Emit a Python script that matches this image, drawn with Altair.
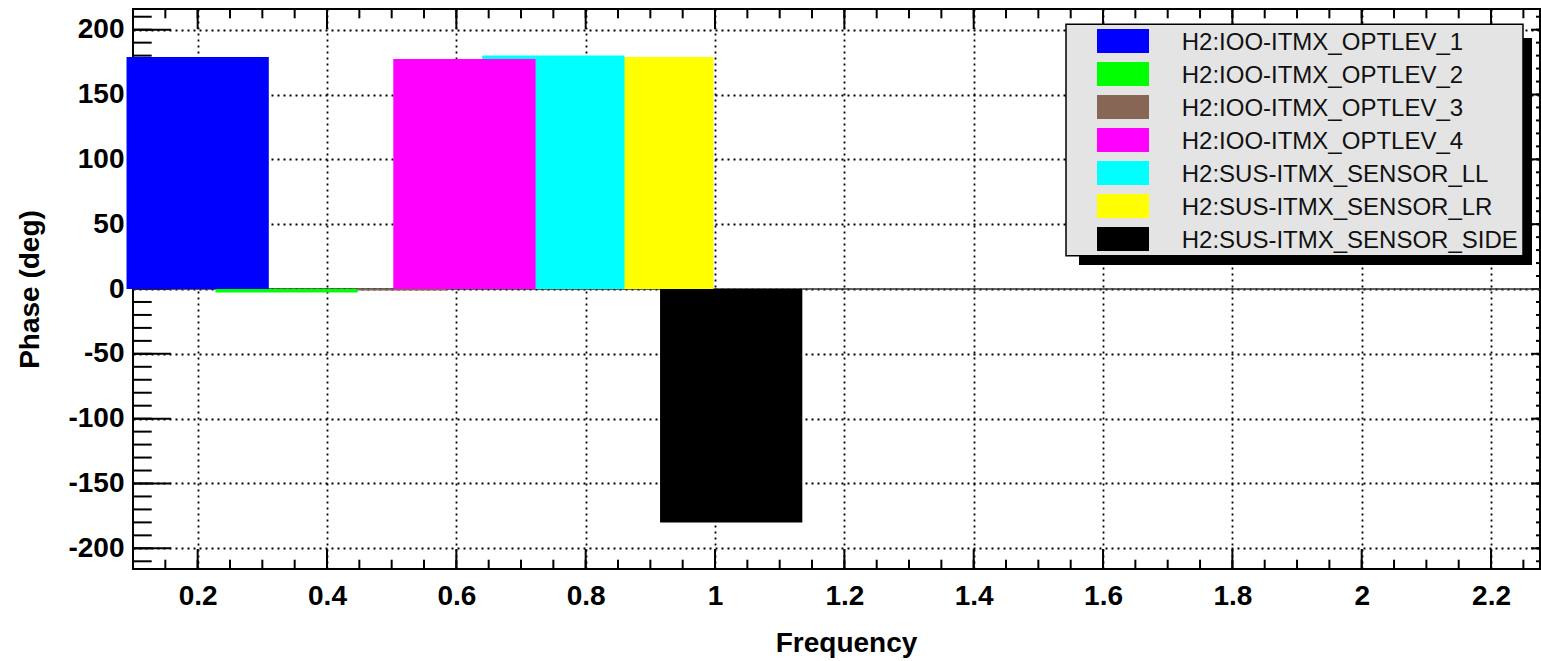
import altair as alt
import pandas as pd

# ---------------- data ----------------
names = [
    "H2:IOO-ITMX_OPTLEV_1",
    "H2:IOO-ITMX_OPTLEV_2",
    "H2:IOO-ITMX_OPTLEV_3",
    "H2:IOO-ITMX_OPTLEV_4",
    "H2:SUS-ITMX_SENSOR_LL",
    "H2:SUS-ITMX_SENSOR_LR",
    "H2:SUS-ITMX_SENSOR_SIDE",
]
colors = ["#0000ff", "#00ff00", "#876656", "#ff00ff", "#00ffff", "#ffff00", "#000000"]
bar_centers = [0.2, 0.3375, 0.475, 0.6125, 0.75, 0.8875, 1.025]
phase = [178.9, -2.7, -1.1, 177.4, 180.0, 178.9, -180.0]
BAR_WIDTH = 0.22

x_ticks = [0.2, 0.4, 0.6, 0.8, 1.0, 1.2, 1.4, 1.6, 1.8, 2.0, 2.2]
y_ticks = [-200, -150, -100, -50, 0, 50, 100, 150, 200]
x_minor = [round(0.1 + 0.05 * i, 2) for i in range(0, 44)]
y_minor = [-210 + 10 * i for i in range(0, 43)]

X_DOMAIN = [0.1, 2.2757]
Y_DOMAIN = [-215.95, 215.95]

W, H = 1407, 560
FONT = "Liberation Sans"

# ---------------- tables ----------------
bars = pd.DataFrame({
    "name": names,
    "x0": [c - BAR_WIDTH / 2 for c in bar_centers],
    "x1": [c + BAR_WIDTH / 2 for c in bar_centers],
    "phase": phase,
})
bars_draw = bars.iloc[::-1].reset_index(drop=True)  # last series drawn first
legend_df = pd.DataFrame({"name": names})

xscale = alt.Scale(domain=X_DOMAIN, nice=False, zero=False)
yscale = alt.Scale(domain=Y_DOMAIN, nice=False, zero=False)
cscale = alt.Scale(domain=names, range=colors)

xaxis = alt.Axis(
    values=x_ticks, labelExpr="'' + datum.value", grid=True, ticks=False, domain=False,
    gridDash=[2, 4], gridColor="black", gridWidth=1.8, gridOpacity=1,
    labelFont=FONT, labelFontWeight="bold", labelFontSize=28, labelColor="black",
    labelPadding=13, labelFlush=False, labelOverlap=False,
    title="Frequency", titleFont=FONT, titleFontWeight="bold", titleFontSize=28,
    titleColor="black", titleX=713, titleY=82.7, titleBaseline="alphabetic",
    titleAlign="center", titleAnchor="middle",
)
yaxis = alt.Axis(
    values=y_ticks, labelExpr="'' + datum.value", grid=True, ticks=False, domain=False,
    gridDash=[2, 4], gridColor="black", gridWidth=1.8, gridOpacity=1,
    labelFont=FONT, labelFontWeight="bold", labelFontSize=28, labelColor="black",
    labelPadding=9, labelFlush=False, labelOverlap=False,
    title="Phase (deg)", titleFont=FONT, titleFontWeight="bold", titleFontSize=28,
    titleColor="black", titleAngle=270, titleX=-95, titleY=280,
    titleBaseline="alphabetic", titleAlign="center", titleAnchor="middle",
)

xmaj = pd.DataFrame({"v": x_ticks})
xmin = pd.DataFrame({"v": x_minor})
ymaj = pd.DataFrame({"v": y_ticks})
ymin = pd.DataFrame({"v": y_minor})

def xtick(df, y0, y1, sw=2):
    return alt.Chart(df).mark_rule(color="black", strokeWidth=sw).encode(
        x=alt.X("v:Q", scale=xscale, axis=xaxis),
        y=alt.value(y0), y2=alt.value(y1),
    )

def ytick(df, x0, x1, sw=2):
    return alt.Chart(df).mark_rule(color="black", strokeWidth=sw).encode(
        y=alt.Y("v:Q", scale=yscale, axis=yaxis),
        x=alt.value(x0), x2=alt.value(x1),
    )

ticks = [
    xtick(xmaj, H, H - 20), xtick(xmin, H, H - 9.3),
    xtick(xmaj, 0, 20), xtick(xmin, 0, 9.3),
    ytick(ymaj, 0, 38), ytick(ymin, 0, 18.7),
    ytick(ymaj, W, W - 9), ytick(ymin, W, W - 4),
]

zero = alt.Chart(pd.DataFrame({"v": [0]})).mark_rule(color="#333333", strokeWidth=1.5).encode(
    y=alt.Y("v:Q", scale=yscale, axis=yaxis),
    x=alt.value(0), x2=alt.value(W),
)

bar_layer = alt.Chart(bars_draw).mark_rect(clip=False).encode(
    x=alt.X("x0:Q", scale=xscale, axis=xaxis),
    x2="x1:Q",
    y=alt.Y("phase:Q", scale=yscale, axis=yaxis),
    y2=alt.datum(0),
    fill=alt.Fill("name:N", scale=cscale, legend=None),
)

main = alt.layer(*ticks, zero, bar_layer)

# ---------------- legend (pixel layout relative to plot origin) ----------------
one = pd.DataFrame({"a": [0]})
shadow = alt.Chart(one).mark_rect(fill="black").encode(
    x=alt.value(946), x2=alt.value(1399), y=alt.value(29), y2=alt.value(256)
)
box = alt.Chart(one).mark_rect(fill="#e4e4e4", stroke="black", strokeWidth=1.5).encode(
    x=alt.value(933), x2=alt.value(1390), y=alt.value(15.3), y2=alt.value(246.7)
)
rows = alt.Y("name:N", sort=names,
             scale=alt.Scale(type="point", domain=names, range=[32, 230], padding=0),
             axis=None)
swatches = alt.Chart(legend_df).mark_point(
    shape="M-1,-0.4615H1V0.4615H-1Z", size=2704, filled=True, opacity=1, strokeWidth=0
).encode(
    x=alt.value(990), y=rows,
    fill=alt.Fill("name:N", scale=cscale, legend=None),
)
labels = alt.Chart(legend_df).mark_text(
    align="left", baseline="alphabetic", dy=9, font=FONT, fontSize=24, color="#111111"
).encode(x=alt.value(1048.7), y=rows, text="name:N")

legend = alt.layer(shadow, box, swatches, labels)

chart = alt.layer(main, legend).resolve_scale(y="independent").properties(
    width=W, height=H,
    autosize=alt.AutoSizeParams(type="none"),
    padding={"left": 133, "top": 9, "right": 1, "bottom": 92},
    background="white",
).configure_view(stroke="black", strokeWidth=2)

chart.save("out.html", embed_options={"renderer": "svg", "actions": False})
